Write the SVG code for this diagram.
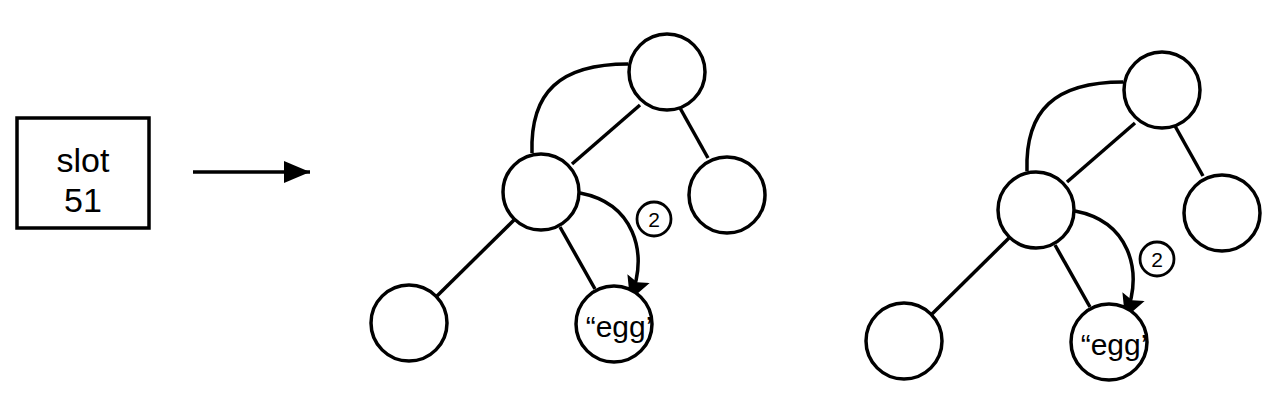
<svg xmlns="http://www.w3.org/2000/svg" width="1280" height="416" viewBox="0 0 1280 416">
<style>
.n{fill:#fff;stroke:#000;stroke-width:3.5}
.e{fill:none;stroke:#000;stroke-width:3.5}
.lb{fill:#fff;stroke:#000;stroke-width:2.8}
.t{font-family:"Liberation Sans",Arial,sans-serif;fill:#000;text-anchor:middle}
</style>
<defs>
<marker id="ah" markerUnits="userSpaceOnUse" markerWidth="28" markerHeight="24" refX="26" refY="11" orient="auto">
<path d="M0,0 L26,11 L0,22 z" fill="#000"/>
</marker>
<marker id="ah2" markerUnits="userSpaceOnUse" markerWidth="26" markerHeight="26" refX="23" refY="12" orient="auto">
<path d="M0,0 L23,12 L0,24 L4,12 z" fill="#000"/>
</marker>
</defs>
<g id="slot">
<rect x="17" y="118" width="132" height="110" class="n"/>
<text x="83" y="172" class="t" font-size="34">slot</text>
<text x="83" y="212" class="t" font-size="34">51</text>
</g>
<g id="connectors">
<line x1="193" y1="172" x2="310" y2="172" class="e" marker-end="url(#ah)"/>
<path d="M532,153 C530,92 560,64 628,64" class="e"/>
<line x1="640" y1="105" x2="572" y2="164" class="e"/>
<line x1="680" y1="108" x2="708" y2="158" class="e"/>
<line x1="514" y1="220" x2="437" y2="296" class="e"/>
<line x1="560" y1="227" x2="595" y2="289" class="e"/>
<path d="M580,193 C632,203 650,250 630,300" class="e" marker-end="url(#ah2)"/>
<path d="M1027,171 C1025,110 1055,82 1123,82" class="e"/>
<line x1="1135" y1="123" x2="1067" y2="182" class="e"/>
<line x1="1175" y1="126" x2="1203" y2="176" class="e"/>
<line x1="1009" y1="238" x2="932" y2="314" class="e"/>
<line x1="1055" y1="245" x2="1090" y2="307" class="e"/>
<path d="M1075,211 C1127,221 1145,268 1125,318" class="e" marker-end="url(#ah2)"/>
</g>
<g id="t1-top"><circle cx="667" cy="72" r="38" class="n"/></g>
<g id="t1-mid"><circle cx="541" cy="192" r="38" class="n"/></g>
<g id="t1-right"><circle cx="727" cy="195" r="38" class="n"/></g>
<g id="t1-left"><circle cx="409" cy="323" r="38" class="n"/></g>
<g id="t1-egg"><circle cx="614" cy="324" r="38" class="n"/><text x="619" y="337" class="t" font-size="30">“egg’</text></g>
<g id="t1-label"><circle cx="654" cy="219" r="17" class="lb"/><text x="654" y="227" class="t" font-size="21">2</text></g>
<g id="t2-top"><circle cx="1162" cy="90" r="38" class="n"/></g>
<g id="t2-mid"><circle cx="1036" cy="210" r="38" class="n"/></g>
<g id="t2-right"><circle cx="1222" cy="213" r="38" class="n"/></g>
<g id="t2-left"><circle cx="904" cy="341" r="38" class="n"/></g>
<g id="t2-egg"><circle cx="1109" cy="342" r="38" class="n"/><text x="1114" y="355" class="t" font-size="30">“egg’</text></g>
<g id="t2-label"><circle cx="1157" cy="259" r="17" class="lb"/><text x="1157" y="267" class="t" font-size="21">2</text></g>
</svg>
